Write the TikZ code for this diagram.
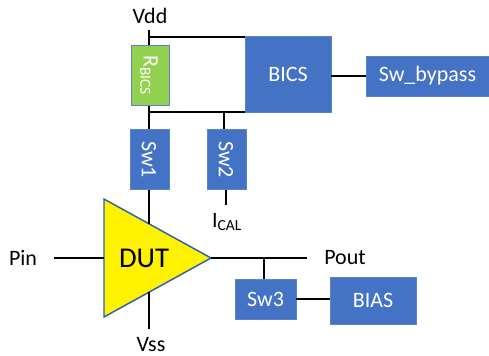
\documentclass[tikz,border=0pt]{standalone}
\usepackage{fontspec}
\setmainfont{Carlito}
\definecolor{boxblue}{RGB}{68,114,196}
\definecolor{boxedge}{RGB}{92,132,196}
\definecolor{resgreen}{RGB}{146,208,80}
\definecolor{trianglelin}{RGB}{47,98,170}
\tikzset{every picture/.style={line width=0.75pt}}
\tikzset{
  labelfont/.style={font=\fontsize{16.5}{20}\selectfont},
  blockbox/.style={draw=boxedge,fill=boxblue,text=white,inner sep=0pt,outer sep=0pt,line width=0.5pt,labelfont},
  resbox/.style={draw=boxedge,fill=resgreen,text=white,inner sep=0pt,outer sep=0pt,line width=0.75pt,labelfont},
  sidelabel/.style={text=white,rotate=-90,inner sep=0pt,labelfont},
  dutshape/.style={draw=trianglelin,fill=yellow,line width=1.1pt,line join=miter},
  wire/.style={draw=black,line width=1.5pt},
  plainlabel/.style={inner sep=0.75pt,labelfont},
}
\begin{document}
\begin{tikzpicture}[x=0.75pt,y=0.75pt,yscale=-1,xscale=1]
\useasboundingbox (0,0) rectangle (489,356);

%Shape: Triangle
\coordinate (duttop) at (104,199);
\coordinate (dutbot) at (104,317);
\coordinate (duttip) at (211,258);
\draw [dutshape] (duttop) -- (duttip) -- (dutbot) -- cycle;
\node (dut) [plainlabel,font=\fontsize{21.5}{26}\selectfont] at (144,258) {DUT};

%Blocks
\node (rbics) [resbox,minimum width=28.5pt,minimum height=45.5pt] at (150,75.5) {};
\node (rbicstext) [sidelabel] at (149,75.5) {R\textsubscript{BICS}};
\node (swone) [blockbox,minimum width=29pt,minimum height=45.5pt] at (150,159.5) {};
\node (swonetext) [sidelabel] at (149,159.5) {Sw1};
\node (swtwo) [blockbox,minimum width=29pt,minimum height=45.5pt] at (226.5,159.5) {};
\node (swtwotext) [sidelabel] at (226,159.5) {Sw2};
\node (bics) [blockbox,minimum width=64.5pt,minimum height=56.5pt] at (288,74.5) {BICS};
\node (swbypass) [blockbox,minimum width=92.25pt,minimum height=30pt] at (427.5,76) {Sw\_bypass};
\node (swthree) [blockbox,minimum width=45.75pt,minimum height=30pt] at (265.5,299) {Sw3};
\node (bias) [blockbox,minimum width=64.5pt,minimum height=35.25pt] at (373,300.5) {BIAS};

%Text Nodes
\node (vdd) [plainlabel] at (150,16) {Vdd};
\node (vss) [plainlabel] at (151,345) {Vss};
\node (pin) [plainlabel] at (23,258) {Pin};
\node (pout) [plainlabel] at (345,258) {Pout};
\node (ical) [plainlabel] at (227,222) {I\textsubscript{CAL}};

%Free ends of wires
\coordinate (vddend) at (149,30);
\coordinate (vddjoin) at (149,37);
\coordinate (busjoin) at (149,112);
\coordinate (swtwojoin) at (224,112);
\coordinate (swonedut) at (149,224);
\coordinate (vssdut) at (149,292);
\coordinate (vssend) at (149,329);
\coordinate (swtwoend) at (225.5,205);
\coordinate (pinend) at (54,258);
\coordinate (pindut) at (104,258);
\coordinate (poutend) at (307,258);
\coordinate (swthreejoin) at (263.5,258);

%Straight Lines
\draw [wire] (vddend) -- (vddend |- rbics.north);
\draw [wire] (vddjoin) -- (vddjoin -| bics.west);
\draw [wire] (busjoin |- rbics.south) -- (busjoin |- swone.north);
\draw [wire] (busjoin) -- (busjoin -| bics.west);
\draw [wire] (swtwojoin) -- (swtwojoin |- swtwo.north);
\draw [wire] (swonedut |- swone.south) -- (swonedut);
\draw [wire] (swtwoend |- swtwo.south) -- (swtwoend);
\draw [wire] (vssdut) -- (vssend);
\draw [wire] (pinend) -- (pindut);
\draw [wire] (duttip) -- (poutend);
\draw [wire] (swthreejoin) -- (swthreejoin |- swthree.north);
\draw [wire] (bics.east |- swbypass.west) -- (swbypass.west);
\draw [wire] (swthree.east) -- (swthree.east -| bias.west);

\end{tikzpicture}
\end{document}
